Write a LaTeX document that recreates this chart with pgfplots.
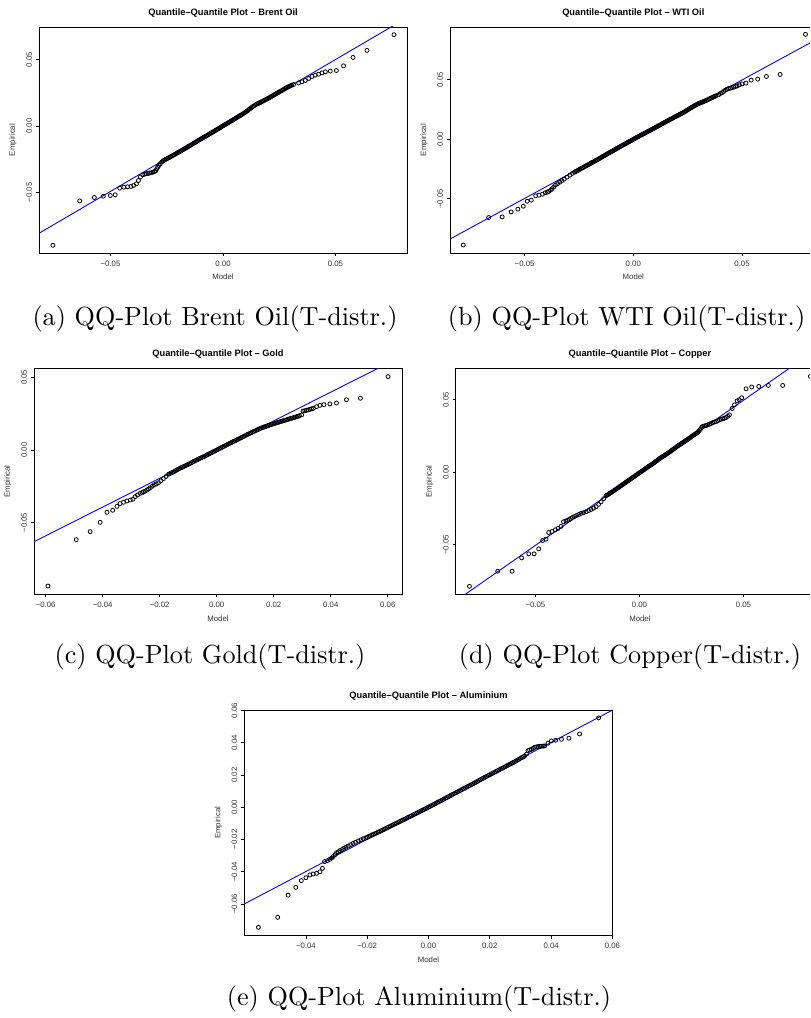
\documentclass[border=0pt]{standalone}
\usepackage{fontspec}
\newfontfamily\rfont{Liberation Sans}
\newfontfamily\capfont{lmroman10-regular.otf}
\usepackage{pgfplots}
\pgfplotsset{compat=1.18}

% R-like qq panel: boxed axis, outward ticks, rotated y tick labels
\pgfplotsset{
  every axis title shift=0pt,
  qq/.style={
    scale only axis, height=113pt, clip=true, scaled ticks=false,
    axis line style={line width=0.45pt},
    tick pos=left, tick align=outside,
    major tick length=1.6pt,
    every tick/.style={black, line width=0.4pt},
    tick label style={font=\rfont\fontsize{3.9}{4.5}\selectfont, text=black!80},
    xticklabel style={anchor=center, yshift=-3.6pt},
    yticklabel style={xshift=-3.3pt, rotate=90, anchor=center},
    title style={font=\rfont\bfseries\fontsize{4.65}{5.5}\selectfont,
                 at={(axis description cs:0.5,1.062)}, anchor=center, yshift=0pt},
    xlabel style={font=\rfont\fontsize{3.9}{4.5}\selectfont, text=black!80,
                  at={(axis description cs:0.5,-0.106)}, anchor=center},
    ylabel style={font=\rfont\fontsize{3.9}{4.5}\selectfont, text=black!80,
                  at={(axis description cs:-0.0707,0.5)}, anchor=center},
    xlabel=Model, ylabel=Empirical,
  },
  pts/.style={only marks, mark=o, mark size=1pt,
              mark options={line width=0.4pt, black}},
  ref/.style={blue, line width=0.45pt},
}

\begin{document}
\begin{tikzpicture}
\useasboundingbox (0,0) rectangle (405pt,509pt);
\clip (0,0) rectangle (405pt,509pt);

% ---------------- (a) Brent Oil
\begin{axis}[qq, at={(19.5pt,382.5pt)}, anchor=south west, width=184pt,
  title={Quantile–Quantile Plot – Brent Oil},
  xmin=-0.0818, xmax=0.0818, ymin=-0.0955, ymax=0.0744,
  xtick={-0.05,0,0.05}, xticklabels={−0.05,0.00,0.05},
  ytick={-0.05,0,0.05}, yticklabels={−0.05,0.00,0.05}]
\addplot[pts] coordinates {
(-0.0756,-0.0897) (-0.0637,-0.0563) (-0.0572,-0.0538) (-0.0532,-0.0528)
(-0.0501,-0.0523) (-0.0479,-0.0518) (-0.0459,-0.0467) (-0.0441,-0.0460)
(-0.0424,-0.0457) (-0.0409,-0.0455) (-0.0397,-0.0447) (-0.0385,-0.0435)
(-0.0376,-0.0410) (-0.0367,-0.0384) (-0.0356,-0.0367) (-0.0348,-0.0362)
(-0.0341,-0.0359) (-0.0333,-0.0357) (-0.0326,-0.0354) (-0.0318,-0.0351)
(-0.0311,-0.0347) (-0.0305,-0.0343) (-0.0299,-0.0336) (-0.0294,-0.0322)
(-0.0290,-0.0309) (-0.0284,-0.0296) (-0.0279,-0.0284) (-0.0272,-0.0270)
(-0.0265,-0.0261) (-0.026,-0.0256) (-0.0255,-0.0251) (-0.025,-0.0247)
(-0.0245,-0.0242) (-0.024,-0.0238) (-0.0235,-0.0233) (-0.023,-0.0229)
(-0.0225,-0.0224) (-0.022,-0.0219) (-0.0215,-0.0215) (-0.021,-0.0210)
(-0.0205,-0.0204) (-0.020,-0.0199) (-0.0195,-0.0195) (-0.019,-0.0190)
(-0.0185,-0.0186) (-0.018,-0.0181) (-0.0175,-0.0175) (-0.017,-0.0170)
(-0.0165,-0.0166) (-0.016,-0.0161) (-0.0155,-0.0155) (-0.015,-0.0150)
(-0.0145,-0.0146) (-0.014,-0.0141) (-0.0135,-0.0135) (-0.013,-0.0130)
(-0.0125,-0.0125) (-0.012,-0.0120) (-0.0115,-0.0114) (-0.011,-0.0109)
(-0.0105,-0.0104) (-0.010,-0.0099) (-0.0095,-0.0095) (-0.009,-0.0090)
(-0.0085,-0.0085) (-0.008,-0.0080) (-0.0075,-0.0076) (-0.007,-0.0071)
(-0.0065,-0.0065) (-0.006,-0.0060) (-0.0055,-0.0055) (-0.005,-0.0050)
(-0.0045,-0.0046) (-0.004,-0.0041) (-0.0035,-0.0035) (-0.003,-0.0030)
(-0.0025,-0.0025) (-0.002,-0.0020) (-0.0015,-0.0015) (-0.001,-0.0010)
(-0.0005,-0.0004) (0.000,0.0001) (0.0005,0.0006) (0.001,0.0011)
(0.0015,0.0016) (0.002,0.0021) (0.0025,0.0026) (0.003,0.0031)
(0.0035,0.0036) (0.004,0.0041) (0.0045,0.0046) (0.005,0.0051)
(0.0055,0.0057) (0.006,0.0062) (0.0065,0.0067) (0.007,0.0072)
(0.0075,0.0077) (0.008,0.0082) (0.0085,0.0087) (0.009,0.0093)
(0.0095,0.0098) (0.010,0.0104) (0.0105,0.0110) (0.011,0.0116)
(0.0115,0.0123) (0.012,0.0130) (0.0125,0.0136) (0.013,0.0142)
(0.0135,0.0148) (0.014,0.0153) (0.0145,0.0159) (0.015,0.0164)
(0.0155,0.0168) (0.016,0.0172) (0.0165,0.0176) (0.017,0.0180)
(0.0175,0.0185) (0.018,0.0189) (0.0185,0.0194) (0.019,0.0198)
(0.0195,0.0203) (0.020,0.0207) (0.0205,0.0212) (0.021,0.0216)
(0.0215,0.0221) (0.022,0.0226) (0.0225,0.0231) (0.023,0.0236)
(0.0235,0.0241) (0.024,0.0246) (0.0245,0.0251) (0.025,0.0256)
(0.0255,0.0261) (0.026,0.0265) (0.0265,0.0270) (0.027,0.0275)
(0.0275,0.0280) (0.028,0.0285) (0.0285,0.0290) (0.029,0.0294)
(0.0295,0.0298) (0.030,0.0302) (0.0305,0.0306)
(0.0314,0.0312) (0.0336,0.0324) (0.0351,0.0332)
(0.0366,0.0342) (0.0381,0.0357) (0.0396,0.0372) (0.0410,0.0382)
(0.0425,0.0389) (0.0440,0.0399) (0.0455,0.0407) (0.0477,0.0412)
(0.0504,0.0417) (0.0536,0.0452) (0.0578,0.0515) (0.0640,0.0568)
(0.0760,0.0686)
};
\addplot[ref] coordinates {(-0.0818,-0.0807) (0.0818,0.0814)};
\end{axis}

% ---------------- (b) WTI Oil
\begin{axis}[qq, at={(225pt,382.5pt)}, anchor=south west, width=183.3pt,
  title={Quantile–Quantile Plot – WTI Oil},
  xmin=-0.0843, xmax=0.0843, ymin=-0.0955, ymax=0.0944,
  xtick={-0.05,0,0.05}, xticklabels={−0.05,0.00,0.05},
  ytick={-0.05,0,0.05}, yticklabels={−0.05,0.00,0.05}]
\addplot[pts] coordinates {
(-0.0782,-0.0888) (-0.0665,-0.0657) (-0.0603,-0.0652) (-0.0562,-0.0610)
(-0.0531,-0.0587) (-0.0506,-0.0562) (-0.0488,-0.0520) (-0.0469,-0.0511)
(-0.0449,-0.0475) (-0.0434,-0.0469) (-0.0418,-0.0461) (-0.0405,-0.0449)
(-0.0395,-0.0443) (-0.0389,-0.0438) (-0.0381,-0.0428) (-0.0374,-0.0416)
(-0.0366,-0.0400) (-0.0358,-0.0385) (-0.0348,-0.0372) (-0.0338,-0.0360)
(-0.0328,-0.0347) (-0.0318,-0.0334) (-0.0305,-0.0318) (-0.0292,-0.0301)
(-0.0280,-0.0286)
(-0.027,-0.0276) (-0.0265,-0.0271) (-0.026,-0.0265) (-0.0255,-0.0261)
(-0.025,-0.0256) (-0.0245,-0.0250) (-0.024,-0.0245) (-0.0235,-0.0241)
(-0.023,-0.0236) (-0.0225,-0.0230) (-0.022,-0.0225) (-0.0215,-0.0221)
(-0.021,-0.0216) (-0.0205,-0.0211) (-0.020,-0.0206) (-0.0195,-0.0200)
(-0.019,-0.0195) (-0.0185,-0.0191) (-0.018,-0.0186) (-0.0175,-0.0180)
(-0.017,-0.0175) (-0.0165,-0.0171) (-0.016,-0.0166) (-0.0155,-0.0160)
(-0.015,-0.0155) (-0.0145,-0.0149) (-0.014,-0.0144) (-0.0135,-0.0139)
(-0.013,-0.0134) (-0.0125,-0.0128) (-0.012,-0.0123) (-0.0115,-0.0117)
(-0.011,-0.0112) (-0.0105,-0.0107) (-0.010,-0.0102) (-0.0095,-0.0097)
(-0.009,-0.0092) (-0.0085,-0.0087) (-0.008,-0.0082) (-0.0075,-0.0076)
(-0.007,-0.0071) (-0.0065,-0.0066) (-0.006,-0.0061) (-0.0055,-0.0056)
(-0.005,-0.0051) (-0.0045,-0.0046) (-0.004,-0.0041) (-0.0035,-0.0036)
(-0.003,-0.0031) (-0.0025,-0.0025) (-0.002,-0.0020) (-0.0015,-0.0015)
(-0.001,-0.0010) (-0.0005,-0.0005) (0.000,0.0000) (0.0005,0.0005)
(0.001,0.0010) (0.0015,0.0015) (0.002,0.0020) (0.0025,0.0025)
(0.003,0.0030) (0.0035,0.0035) (0.004,0.0040) (0.0045,0.0044)
(0.005,0.0049) (0.0055,0.0054) (0.006,0.0059) (0.0065,0.0064)
(0.007,0.0069) (0.0075,0.0073) (0.008,0.0078) (0.0085,0.0083)
(0.009,0.0088) (0.0095,0.0093) (0.010,0.0098) (0.0105,0.0103)
(0.011,0.0108) (0.0115,0.0113) (0.012,0.0118) (0.0125,0.0123)
(0.013,0.0128) (0.0135,0.0133) (0.014,0.0138) (0.0145,0.0143)
(0.015,0.0148) (0.0155,0.0153) (0.016,0.0158) (0.0165,0.0163)
(0.017,0.0168) (0.0175,0.0172) (0.018,0.0177) (0.0185,0.0182)
(0.019,0.0187) (0.0195,0.0192) (0.020,0.0197) (0.0205,0.0201)
(0.021,0.0206) (0.0215,0.0211) (0.022,0.0216) (0.0225,0.0220)
(0.023,0.0225) (0.0235,0.0230) (0.024,0.0236) (0.0245,0.0242)
(0.025,0.0248) (0.0255,0.0253) (0.026,0.0259) (0.0265,0.0264)
(0.027,0.0270) (0.0275,0.0275) (0.028,0.0281) (0.0285,0.0286)
(0.029,0.0291) (0.0295,0.0296) (0.030,0.0300) (0.0305,0.0304)
(0.031,0.0308) (0.0315,0.0311) (0.032,0.0315) (0.0325,0.0319)
(0.033,0.0323) (0.0335,0.0327) (0.034,0.0331) (0.0345,0.0335)
(0.035,0.0340) (0.0355,0.0344) (0.036,0.0349) (0.0365,0.0353)
(0.037,0.0358) (0.0375,0.0362) (0.038,0.0366)
(0.0392,0.0374) (0.0400,0.0385) (0.0408,0.0392) (0.0415,0.0402)
(0.0423,0.0412) (0.0431,0.0421) (0.0438,0.0426) (0.0446,0.0430)
(0.0454,0.0434) (0.0462,0.0438) (0.0470,0.0444) (0.0477,0.0449)
(0.0488,0.0458) (0.0500,0.0466) (0.0518,0.0472) (0.0542,0.0497)
(0.0572,0.0506) (0.0612,0.0528) (0.0675,0.0545) (0.0792,0.0882)
};
\addplot[ref] coordinates {(-0.0843,-0.0838) (0.0843,0.0840)};
\end{axis}

% ---------------- (c) Gold
\begin{axis}[qq, at={(17pt,211.85pt)}, anchor=south west, width=184pt,
  title={Quantile–Quantile Plot – Gold},
  xmin=-0.0641, xmax=0.065, ymin=-0.0993, ymax=0.0562,
  xtick={-0.06,-0.04,-0.02,0,0.02,0.04,0.06},
  xticklabels={−0.06,−0.04,−0.02,0.00,0.02,0.04,0.06},
  ytick={-0.05,0,0.05}, yticklabels={−0.05,0.00,0.05}]
\addplot[pts] coordinates {
(-0.0592,-0.0936) (-0.0493,-0.0617) (-0.0444,-0.0562) (-0.0409,-0.0498)
(-0.0385,-0.0429) (-0.0365,-0.0415) (-0.0350,-0.0388) (-0.0339,-0.0369)
(-0.0327,-0.0360) (-0.0315,-0.0351) (-0.0303,-0.0344) (-0.0294,-0.0339)
(-0.0286,-0.0321) (-0.0278,-0.0310) (-0.0268,-0.0298) (-0.0262,-0.0293)
(-0.0257,-0.0289) (-0.0251,-0.0283) (-0.0245,-0.0275) (-0.0239,-0.0268)
(-0.0233,-0.0259) (-0.0226,-0.0249) (-0.0219,-0.0239) (-0.0212,-0.0233)
(-0.0204,-0.0225) (-0.0196,-0.0212) (-0.0187,-0.0197) (-0.0178,-0.0182)
(-0.0169,-0.0167)
(-0.0165,-0.0163) (-0.016,-0.0158) (-0.0155,-0.0154) (-0.015,-0.0149)
(-0.0145,-0.0143) (-0.014,-0.0137) (-0.0135,-0.0132) (-0.013,-0.0127)
(-0.0125,-0.0122) (-0.012,-0.0118) (-0.0115,-0.0113) (-0.011,-0.0108)
(-0.0105,-0.0103) (-0.010,-0.0099) (-0.0095,-0.0094) (-0.009,-0.0089)
(-0.0085,-0.0083) (-0.008,-0.0078) (-0.0075,-0.0073) (-0.007,-0.0069)
(-0.0065,-0.0064) (-0.006,-0.0059) (-0.0055,-0.0054) (-0.005,-0.0049)
(-0.0045,-0.0045) (-0.004,-0.0040) (-0.0035,-0.0035) (-0.003,-0.0030)
(-0.0025,-0.0025) (-0.002,-0.0020) (-0.0015,-0.0015) (-0.001,-0.0010)
(-0.0005,-0.0005) (0.000,0.0000) (0.0005,0.0005) (0.001,0.0010)
(0.0015,0.0015) (0.002,0.0020) (0.0025,0.0025) (0.003,0.0030)
(0.0035,0.0035) (0.004,0.0040) (0.0045,0.0045) (0.005,0.0050)
(0.0055,0.0055) (0.006,0.0060) (0.0065,0.0064) (0.007,0.0069)
(0.0075,0.0074) (0.008,0.0079) (0.0085,0.0084) (0.009,0.0089)
(0.0095,0.0094) (0.010,0.0099) (0.0105,0.0104) (0.011,0.0109)
(0.0115,0.0113) (0.012,0.0118) (0.0125,0.0123) (0.013,0.0128)
(0.0135,0.0132) (0.014,0.0137) (0.0145,0.0141) (0.015,0.0146)
(0.0155,0.0150) (0.016,0.0154) (0.0165,0.0157) (0.017,0.0161)
(0.0175,0.0164) (0.018,0.0168) (0.0185,0.0171) (0.019,0.0175)
(0.0195,0.0178) (0.020,0.0181) (0.0205,0.0184) (0.021,0.0187)
(0.0215,0.0190) (0.022,0.0193) (0.0225,0.0196) (0.023,0.0199)
(0.0235,0.0202) (0.024,0.0205) (0.0245,0.0208) (0.025,0.0211)
(0.0255,0.0214) (0.026,0.0217) (0.0265,0.0220) (0.027,0.0223)
(0.0275,0.0226) (0.028,0.0229) (0.0285,0.0232) (0.029,0.0236)
(0.0298,0.0241) (0.0303,0.0268) (0.0309,0.0270) (0.0315,0.0273)
(0.0321,0.0276) (0.0327,0.0280) (0.0333,0.0283) (0.0339,0.0287)
(0.0350,0.0298) (0.0362,0.0307) (0.0376,0.0312) (0.0397,0.0317)
(0.0420,0.0323) (0.0455,0.0346) (0.0504,0.0356) (0.0601,0.0505)
};
\addplot[ref] coordinates {(-0.0641,-0.0631) (0.065,0.0645)};
\end{axis}

% ---------------- (d) Copper
\begin{axis}[qq, at={(227.85pt,211.85pt)}, anchor=south west, width=184.2pt,
  title={Quantile–Quantile Plot – Copper},
  xmin=-0.0883, xmax=0.0888, ymin=-0.0841, ymax=0.0717,
  xtick={-0.05,0,0.05}, xticklabels={−0.05,0.00,0.05},
  ytick={-0.05,0,0.05}, yticklabels={−0.05,0.00,0.05}]
\addplot[pts] coordinates {
(-0.0817,-0.0786) (-0.0681,-0.0682) (-0.0612,-0.0682) (-0.0566,-0.0590)
(-0.0532,-0.0562) (-0.0506,-0.0562) (-0.0484,-0.0528) (-0.0465,-0.0470)
(-0.0449,-0.0461) (-0.0436,-0.0415) (-0.0420,-0.0408) (-0.0404,-0.0396)
(-0.0391,-0.0387) (-0.0377,-0.0373) (-0.0365,-0.0341) (-0.0353,-0.0336)
(-0.0345,-0.0331) (-0.0337,-0.0325) (-0.0329,-0.0318) (-0.0321,-0.0311)
(-0.0311,-0.0304) (-0.0301,-0.0297) (-0.0290,-0.0290) (-0.0280,-0.0283)
(-0.0268,-0.0278) (-0.0256,-0.0272) (-0.0244,-0.0264) (-0.0232,-0.0256)
(-0.0220,-0.0247) (-0.0208,-0.0237) (-0.0196,-0.0221) (-0.0184,-0.0203)
(-0.0172,-0.0182) (-0.0160,-0.0161)
(-0.0155,-0.0157) (-0.015,-0.0153) (-0.0145,-0.0148) (-0.014,-0.0143)
(-0.0135,-0.0139) (-0.013,-0.0134) (-0.0125,-0.0129) (-0.012,-0.0124)
(-0.0115,-0.0119) (-0.011,-0.0114) (-0.0105,-0.0109) (-0.010,-0.0104)
(-0.0095,-0.0099) (-0.009,-0.0094) (-0.0085,-0.0089) (-0.008,-0.0084)
(-0.0075,-0.0079) (-0.007,-0.0074) (-0.0065,-0.0069) (-0.006,-0.0064)
(-0.0055,-0.0059) (-0.005,-0.0054) (-0.0045,-0.0049) (-0.004,-0.0044)
(-0.0035,-0.0039) (-0.003,-0.0034) (-0.0025,-0.0029) (-0.002,-0.0024)
(-0.0015,-0.0019) (-0.001,-0.0014) (-0.0005,-0.0009) (0.000,-0.0004)
(0.0005,0.0001) (0.001,0.0006) (0.0015,0.0011) (0.002,0.0016)
(0.0025,0.0021) (0.003,0.0026) (0.0035,0.0031) (0.004,0.0036)
(0.0045,0.0041) (0.005,0.0046) (0.0055,0.0050) (0.006,0.0055)
(0.0065,0.0060) (0.007,0.0065) (0.0075,0.0070) (0.008,0.0076)
(0.0085,0.0081) (0.009,0.0087) (0.0095,0.0092) (0.010,0.0098)
(0.0105,0.0102) (0.011,0.0107) (0.0115,0.0111) (0.012,0.0116)
(0.0125,0.0120) (0.013,0.0125) (0.0135,0.0130) (0.014,0.0135)
(0.0145,0.0140) (0.015,0.0145) (0.0155,0.0150) (0.016,0.0156)
(0.0165,0.0161) (0.017,0.0166) (0.0175,0.0171) (0.018,0.0177)
(0.0185,0.0182) (0.019,0.0187) (0.0195,0.0191) (0.020,0.0196)
(0.0205,0.0201) (0.021,0.0206) (0.0215,0.0210) (0.022,0.0215)
(0.0225,0.0220) (0.023,0.0225) (0.0235,0.0230) (0.024,0.0235)
(0.0245,0.0240) (0.025,0.0246) (0.0255,0.0251) (0.026,0.0256)
(0.0265,0.0260) (0.027,0.0265) (0.0275,0.0270) (0.028,0.0275)
(0.0285,0.0282) (0.029,0.0292) (0.0295,0.0301) (0.030,0.0310)
(0.0304,0.0316) (0.0313,0.0320) (0.0321,0.0323) (0.0329,0.0327)
(0.0337,0.0332) (0.0345,0.0337) (0.0353,0.0343) (0.0361,0.0347)
(0.0369,0.0350) (0.0377,0.0356) (0.0385,0.0362) (0.0393,0.0366)
(0.0401,0.0369) (0.0409,0.0373) (0.0417,0.0378) (0.0425,0.0386)
(0.0433,0.0396) (0.0446,0.0440) (0.0457,0.0465) (0.0470,0.0493)
(0.0480,0.0500) (0.0492,0.0514) (0.0513,0.0576) (0.0540,0.0588)
(0.0574,0.0592) (0.0620,0.0599) (0.0689,0.0599) (0.0822,0.0661)
};
\addplot[ref] coordinates {(-0.0883,-0.0887) (0.0888,0.0884)};
\end{axis}

% ---------------- (e) Aluminium
\begin{axis}[qq, at={(122.15pt,41.15pt)}, anchor=south west, width=184.2pt,
  height=112.85pt,
  title={Quantile–Quantile Plot – Aluminium},
  xmin=-0.0601, xmax=0.0601, ymin=-0.0797, ymax=0.0604,
  xtick={-0.04,-0.02,0,0.02,0.04,0.06},
  xticklabels={−0.04,−0.02,0.00,0.02,0.04,0.06},
  ytick={-0.06,-0.04,-0.02,0,0.02,0.04,0.06},
  yticklabels={−0.06,−0.04,−0.02,0.00,0.02,0.04,0.06}]
\addplot[pts] coordinates {
(-0.0555,-0.0745) (-0.0492,-0.0683) (-0.0458,-0.0545) (-0.0433,-0.0497)
(-0.0415,-0.0455) (-0.0400,-0.0437) (-0.0387,-0.0420) (-0.0376,-0.0414)
(-0.0365,-0.0410) (-0.0354,-0.0400) (-0.0346,-0.0379) (-0.0339,-0.0337)
(-0.0330,-0.0331) (-0.0322,-0.0323) (-0.0316,-0.0315) (-0.0311,-0.0306)
(-0.0305,-0.0294) (-0.0300,-0.0282) (-0.0294,-0.0276) (-0.0289,-0.0269)
(-0.0282,-0.0262) (-0.0276,-0.0255) (-0.0269,-0.0248) (-0.0262,-0.0240)
(-0.0254,-0.0232) (-0.0246,-0.0224) (-0.0238,-0.0217) (-0.0229,-0.0209)
(-0.0221,-0.0202) (-0.0213,-0.0195)
(-0.0205,-0.0190) (-0.020,-0.0186) (-0.0195,-0.0181) (-0.019,-0.0177)
(-0.0185,-0.0172) (-0.018,-0.0168) (-0.0175,-0.0164) (-0.017,-0.0160)
(-0.0165,-0.0155) (-0.016,-0.0151) (-0.0155,-0.0146) (-0.015,-0.0142)
(-0.0145,-0.0137) (-0.014,-0.0132) (-0.0135,-0.0127) (-0.013,-0.0123)
(-0.0125,-0.0118) (-0.012,-0.0113) (-0.0115,-0.0108) (-0.011,-0.0104)
(-0.0105,-0.0099) (-0.010,-0.0095) (-0.0095,-0.0090) (-0.009,-0.0085)
(-0.0085,-0.0080) (-0.008,-0.0076) (-0.0075,-0.0071) (-0.007,-0.0066)
(-0.0065,-0.0061) (-0.006,-0.0057) (-0.0055,-0.0052) (-0.005,-0.0047)
(-0.0045,-0.0042) (-0.004,-0.0038) (-0.0035,-0.0033) (-0.003,-0.0028)
(-0.0025,-0.0023) (-0.002,-0.0019) (-0.0015,-0.0014) (-0.001,-0.0009)
(-0.0005,-0.0004) (0.000,0.0001) (0.0005,0.0006) (0.001,0.0011)
(0.0015,0.0016) (0.002,0.0021) (0.0025,0.0026) (0.003,0.0031)
(0.0035,0.0036) (0.004,0.0041) (0.0045,0.0046) (0.005,0.0051)
(0.0055,0.0056) (0.006,0.0061) (0.0065,0.0066) (0.007,0.0071)
(0.0075,0.0076) (0.008,0.0081) (0.0085,0.0086) (0.009,0.0091)
(0.0095,0.0096) (0.010,0.0101) (0.0105,0.0106) (0.011,0.0111)
(0.0115,0.0116) (0.012,0.0121) (0.0125,0.0126) (0.013,0.0131)
(0.0135,0.0136) (0.014,0.0141) (0.0145,0.0146) (0.015,0.0151)
(0.0155,0.0156) (0.016,0.0161) (0.0165,0.0167) (0.017,0.0172)
(0.0175,0.0177) (0.018,0.0182) (0.0185,0.0187) (0.019,0.0192)
(0.0195,0.0197) (0.020,0.0202) (0.0205,0.0207) (0.021,0.0212)
(0.0215,0.0217) (0.022,0.0222) (0.0225,0.0227) (0.023,0.0232)
(0.0235,0.0237) (0.024,0.0242) (0.0245,0.0247) (0.025,0.0252)
(0.0255,0.0257) (0.026,0.0262) (0.0265,0.0267) (0.027,0.0272)
(0.0275,0.0277) (0.028,0.0282) (0.0285,0.0287) (0.029,0.0293)
(0.0295,0.0298) (0.030,0.0304) (0.0305,0.0309) (0.031,0.0314)
(0.0314,0.0319) (0.0320,0.0330) (0.0325,0.0352) (0.0330,0.0356)
(0.0336,0.0360) (0.0342,0.0366) (0.0347,0.0373) (0.0353,0.0375)
(0.0358,0.0377) (0.0363,0.0378) (0.0368,0.0379) (0.0374,0.0380)
(0.0379,0.0381) (0.0390,0.0398) (0.0401,0.0412) (0.0415,0.0416)
(0.0434,0.0422) (0.0458,0.0429) (0.0493,0.0455) (0.0555,0.0555)
};
\addplot[ref] coordinates {(-0.0601,-0.0600) (0.0601,0.0604)};
\end{axis}

% ---------------- sub-captions
\begin{scope}[every node/.style={anchor=base, font=\capfont\fontsize{13.1}{15}\selectfont}]
\node at (107.5pt,346.4pt) {(a) QQ-Plot Brent Oil(T-distr.)};
\node at (313.3pt,346.4pt) {(b) QQ-Plot WTI Oil(T-distr.)};
\node at (105pt,177.2pt) {(c) QQ-Plot Gold(T-distr.)};
\node at (315pt,177.2pt) {(d) QQ-Plot Copper(T-distr.)};
\node at (209.5pt,6pt) {(e) QQ-Plot Aluminium(T-distr.)};
\end{scope}
\end{tikzpicture}
\end{document}
